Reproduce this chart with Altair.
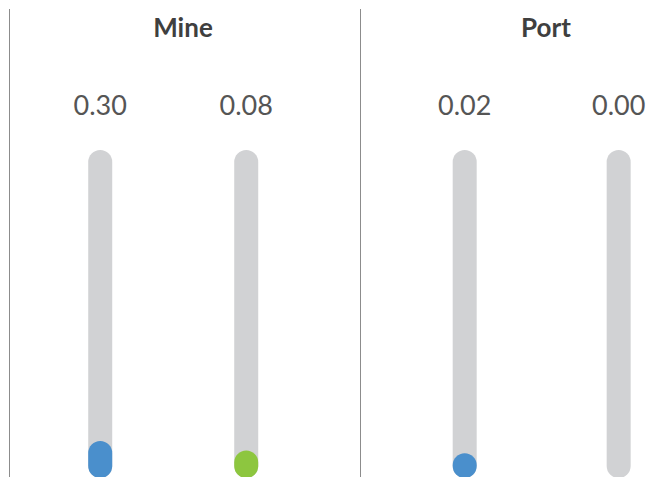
import altair as alt
import pandas as pd

# ---- data ----
groups = ["Mine", "Mine", "Port", "Port"]
slots = ["a", "b", "a", "b"]
values = [0.30, 0.08, 0.02, 0.00]
group_names = ["Mine", "Port"]

# ---- style ----
Y_MAX = 7
TRACK = "#d1d2d4"
COLORS = ["#4a8fcc", "#8dc63f"]
H = 304
panel_w = {"Mine": 351, "Port": 287}
panel_pad = {"Mine": 0.702, "Port": 0.432}
panel_align = {"Mine": 0.445, "Port": 0.787}
title_x = {"Mine": 174, "Port": 186}

df = pd.DataFrame({"group": groups, "slot": slots, "value": values})


def panel(name):
    d = df[df.group == name]
    w = panel_w[name]
    base = alt.Chart(d)
    xenc = alt.X(
        "slot:N",
        scale=alt.Scale(type="point", domain=["a", "b"],
                        padding=panel_pad[name], align=panel_align[name]),
        axis=None,
    )
    yscale = alt.Scale(domain=[0, Y_MAX], nice=False, zero=True)
    track = base.mark_rule(strokeWidth=24, strokeCap="round", color=TRACK).encode(
        x=xenc,
        y=alt.YDatum(Y_MAX, type="quantitative", scale=yscale, axis=None),
        y2=alt.Y2Datum(0),
    )
    fill = (
        base.transform_filter("datum.value > 0")
        .mark_rule(strokeWidth=24, strokeCap="round")
        .encode(
            x=xenc,
            y=alt.Y("value:Q", scale=yscale, axis=None),
            y2=alt.Y2Datum(0),
            color=alt.Color("slot:N", scale=alt.Scale(domain=["a", "b"], range=COLORS), legend=None),
        )
    )
    labels = base.mark_text(
        font="Lato", fontSize=27, fontWeight=400, color="#555555", baseline="middle"
    ).encode(x=xenc, y=alt.value(-55), text=alt.Text("value:Q", format=".2f"))
    head = alt.Chart(pd.DataFrame({"group": [name]}))
    title = head.mark_text(
        font="Lato", fontSize=26, fontWeight="bold", color="#3f3f3f", baseline="middle"
    ).encode(x=alt.value(title_x[name]), y=alt.value(-133.5), text="group:N")
    sep = head.mark_rule(color="#8c8c8c", strokeWidth=1).encode(
        x=alt.value(0.5), y=alt.value(-153), y2=alt.value(H + 12)
    )
    return alt.layer(sep, track, fill, labels, title).properties(width=w, height=H)


chart = (
    alt.hconcat(*[panel(g) for g in group_names], spacing=0, bounds="flush")
    .configure_view(stroke=None)
    .properties(padding={"left": 9, "top": 8, "right": 0, "bottom": 0})
)

chart.save("out.html", embed_options={"renderer": "svg", "actions": False})
